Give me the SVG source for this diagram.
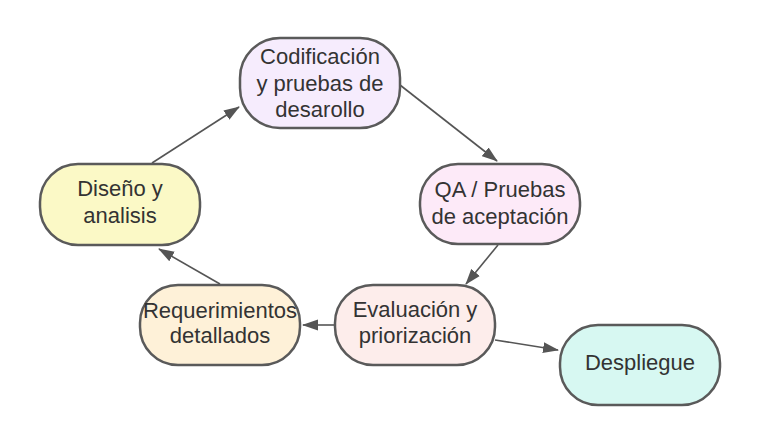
<svg xmlns="http://www.w3.org/2000/svg" width="760" height="445" viewBox="0 0 760 445">
<style>
.n{stroke:#5a5a5a;stroke-width:2.5}
.t{font-family:"Liberation Sans",Arial,sans-serif;font-size:22px;fill:#333;text-anchor:middle}
.e{stroke:#555;stroke-width:1.6;fill:none;marker-end:url(#a)}
</style>
<defs>
<marker id="a" markerWidth="16" markerHeight="12" refX="15" refY="6" orient="auto" markerUnits="userSpaceOnUse" viewBox="0 0 16 12">
<path d="M0,0.5 L16,6 L0,11.5 z" fill="#555"/>
</marker>
</defs>
<rect width="760" height="445" fill="#fff"/>
<g id="edges">
<path class="e" d="M152,163 L239,107"/>
<path class="e" d="M400,85 L497,161"/>
<path class="e" d="M498,245 L466,284"/>
<path class="e" d="M335,325 L303,325"/>
<path class="e" d="M220,284 L159,249"/>
<path class="e" d="M495,340 L558,350"/>
</g>
<g id="n1"><rect class="n" x="240" y="38" width="160" height="90" rx="40" fill="#f6ecfd"/>
<text class="t" x="320" y="64">Codificación</text><text class="t" x="320" y="91">y pruebas de</text><text class="t" x="320" y="117">desarollo</text></g>
<g id="n2"><rect class="n" x="40" y="164" width="160" height="81" rx="38" fill="#fbf9c6"/>
<text class="t" x="120" y="196">Diseño y</text><text class="t" x="120" y="223">analisis</text></g>
<g id="n3"><rect class="n" x="420" y="164" width="160" height="80" rx="38" fill="#fdeaf8"/>
<text class="t" x="500" y="197">QA / Pruebas</text><text class="t" x="500" y="224">de aceptación</text></g>
<g id="n4"><rect class="n" x="140" y="285" width="160" height="80" rx="38" fill="#fef1d8"/>
<text class="t" x="220" y="318">Requerimientos</text><text class="t" x="220" y="343">detallados</text></g>
<g id="n5"><rect class="n" x="335" y="285" width="160" height="80" rx="38" fill="#fdedeb"/>
<text class="t" x="415" y="317">Evaluación y</text><text class="t" x="415" y="343">priorización</text></g>
<g id="n6"><rect class="n" x="560" y="325" width="160" height="80" rx="38" fill="#d7f8f2"/>
<text class="t" x="640" y="370">Despliegue</text></g>
</svg>
